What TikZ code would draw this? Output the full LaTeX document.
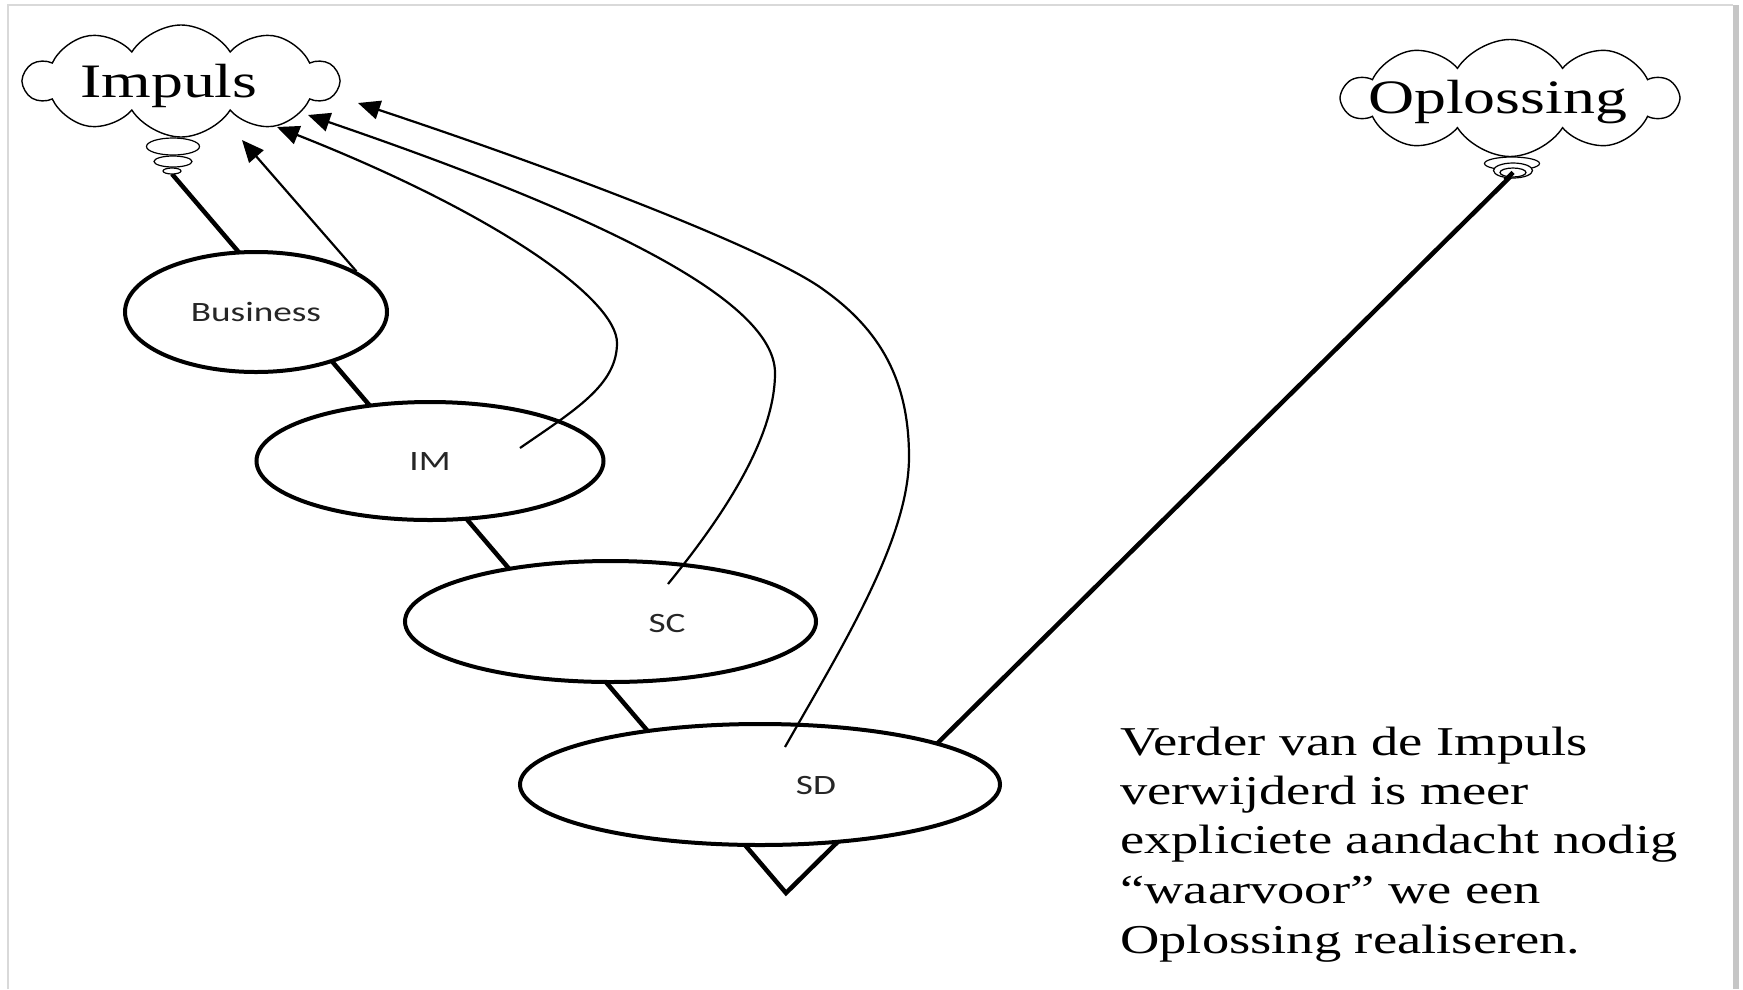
\documentclass[tikz,border=0pt]{standalone}
\usepackage{fontspec}
\newfontfamily\wserif[FakeStretch=1.33]{Liberation Serif}
\newfontfamily\wsans[FakeStretch=1.33]{Carlito}
\usetikzlibrary{shapes.geometric,shapes.symbols,arrows.meta}
\begin{document}
\begin{tikzpicture}[x=1pt,y=-1pt,
  bubble/.style={ellipse, draw, line width=1.2pt, fill=white, inner sep=0pt},
  thought/.style={cloud, draw, line width=1.4pt, fill=white, cloud puffs=10, cloud puff arc=115, cloud ignores aspect, inner sep=0pt},
  stage/.style={ellipse, draw, line width=4pt, fill=white, inner sep=0pt},
  stagelabel/.style={font=\wsans\fontsize{28}{30}\selectfont, text=black!85, inner sep=0pt},
  spine/.style={line width=4.5pt, line join=miter},
  link/.style={line width=2.2pt, -{Triangle[length=22pt,width=19pt]}},
  bigtext/.style={font=\wserif\fontsize{48}{56}\selectfont, inner sep=0pt, anchor=base west},
  note/.style={font=\wserif\fontsize{41}{49}\selectfont, inner sep=0pt, anchor=base west},
]
\useasboundingbox (0,0) rectangle (1743,989);
\fill[white] (0,0) rectangle (1743,989);
% frame
\fill[gray!45] (1733,5) rectangle (1739,989);
\draw[gray!30, line width=1.5pt] (8,989) -- (8,5) -- (1733,5);

% spine coordinates
\coordinate (ispine) at (172,174);
\coordinate (vtip) at (786,893);
\coordinate (ospine) at (1513,174);
\draw[spine] (ispine) -- (vtip) -- (ospine);

% clouds
\node[thought, minimum width=313pt, minimum height=112pt] (impcloud) at (181,81) {};
\node[thought, minimum width=334pt, minimum height=117pt] (opcloud) at (1510,98) {};
\node[bigtext] (imptext) at (80,97) {Impuls};
\node[bigtext] (optext) at (1368,113) {Oplossing};

% thought bubbles
\node[bubble, minimum width=53pt, minimum height=17pt] (ib1) at (173,146.5) {};
\node[bubble, minimum width=38pt, minimum height=11pt] (ib2) at (173,161.5) {};
\node[bubble, minimum width=18pt, minimum height=6pt] (ib3) at (172,171) {};
\node[bubble, minimum width=55pt, minimum height=13pt] (ob1) at (1512,163.5) {};
\node[bubble, minimum width=39pt, minimum height=15pt] (ob2) at (1513,170.5) {};
\node[bubble, minimum width=26pt, minimum height=9pt] (ob3) at (1513,172.5) {};
\draw[spine] (ob3.center) -- +(-8,8);

% stages
\node[stage, minimum width=262pt, minimum height=120pt] (biz) at (256,312) {};
\node[stage, minimum width=347pt, minimum height=118pt] (im) at (430,461) {};
\node[stage, minimum width=411pt, minimum height=121pt] (sc) at (610.5,621.5) {};
\node[stage, minimum width=480pt, minimum height=121pt] (sd) at (760,784.5) {};
\node[stagelabel] (bizl) at (256,312) {Business};
\node[stagelabel] (iml) at (430,462) {IM};
\node[stagelabel] (scl) at (667,623) {SC};
\node[stagelabel] (sdl) at (816,785) {SD};

% arrows to Impuls
\coordinate (bizT) at (242,140);
\coordinate (imS) at (520,448);
\coordinate (imT) at (277,127);
\coordinate (scS) at (668,584);
\coordinate (scT) at (308,115);
\coordinate (sdS) at (785,747);
\coordinate (sdT) at (358,103);
\draw[link] (biz.22) -- (bizT);
\draw[link] (imS) .. controls (575,410) and (617,385) .. (617,343)
                  .. controls (617,300) and (500,215) .. (imT);
\draw[link] (scS) .. controls (720,520) and (775,440) .. (775,373)
                  .. controls (775,300) and (600,215) .. (scT);
\draw[link] (sdS) .. controls (840,650) and (909,540) .. (909,457)
                  .. controls (909,380) and (880,330) .. (824,290)
                  .. controls (770,250) and (560,170) .. (sdT);

% note
\node[note] (n1) at (1120,755) {Verder van de Impuls};
\node[note] (n2) at (1120,804) {verwijderd is meer};
\node[note] (n3) at (1120,853) {expliciete aandacht nodig};
\node[note] (n4) at (1120,903) {“waarvoor” we een};
\node[note] (n5) at (1120,953) {Oplossing realiseren.};
\end{tikzpicture}
\end{document}
